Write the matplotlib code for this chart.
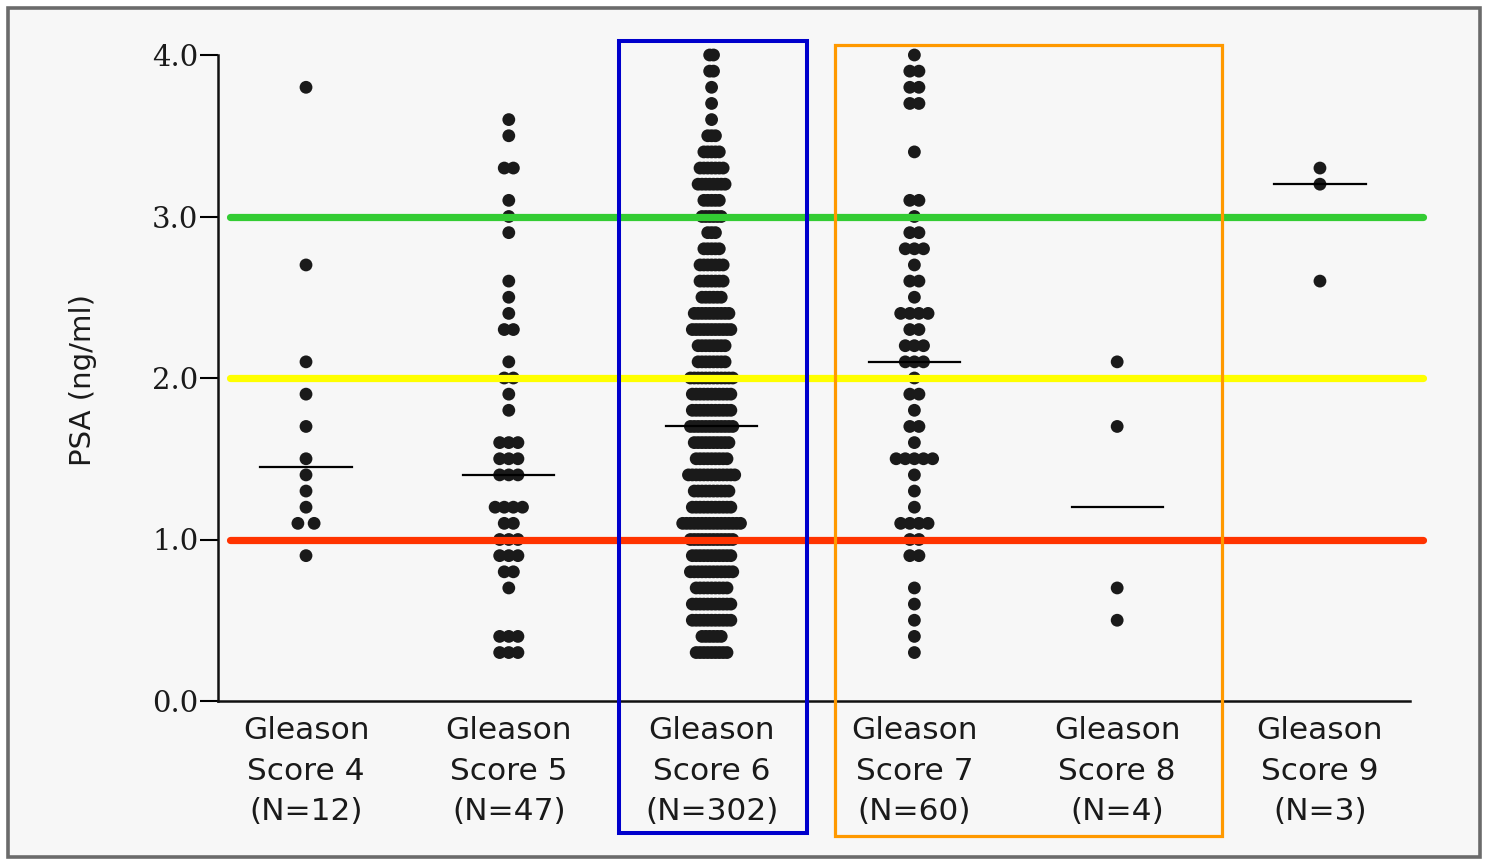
import numpy as np
import matplotlib
matplotlib.use("Agg")
from matplotlib import pyplot as plt
from matplotlib.patches import Rectangle

# PSA values (ng/ml) per Gleason score group
gs4 = [3.8, 2.7, 2.1, 1.9, 1.7, 1.5, 1.4, 1.3, 1.2, 1.1, 1.1, 0.9]
gs5 = [3.6, 3.5, 3.3, 3.3, 3.1, 3.0, 2.9, 2.6, 2.5, 2.4, 2.3, 2.3, 2.1, 2.0, 2.0,
       1.9, 1.8, 1.6, 1.6, 1.6, 1.5, 1.5, 1.5, 1.4, 1.4, 1.4, 1.2, 1.2, 1.2, 1.2,
       1.1, 1.1, 1.0, 1.0, 1.0, 0.9, 0.9, 0.9, 0.8, 0.8, 0.7, 0.4, 0.4, 0.4,
       0.3, 0.3, 0.3]
# score 6 and 7 are dense, so they are kept as PSA level -> number of patients
gs6_levels = np.round(np.arange(3, 41) / 10, 1)
gs6_counts = [9, 6, 11, 11, 9, 12, 11, 12, 16, 11, 10, 13, 9, 10,
              12,
              11, 11, 12, 8, 8, 11, 10, 6, 7, 7, 5, 3, 6, 5, 8, 7, 5, 3,
              1, 1, 1, 2, 2]
gs7_counts = [1, 1, 1, 1, 1, 0, 2, 2, 4, 1, 1, 1, 5, 1, 2, 1, 2, 1,
              3,
              3, 2, 4, 1, 2, 1, 3, 2, 1, 2, 0, 0, 1, 0, 0, 2, 2, 2, 1]
gs6 = np.repeat(gs6_levels, gs6_counts)
gs7 = np.repeat(gs6_levels, gs7_counts)
gs8 = [2.1, 1.7, 0.7, 0.5]
gs9 = [3.3, 3.2, 2.6]

groups = [gs4, gs5, gs6, gs7, gs8, gs9]
labels = ["Gleason\nScore 4\n(N=12)", "Gleason\nScore 5\n(N=47)",
          "Gleason\nScore 6\n(N=302)", "Gleason\nScore 7\n(N=60)",
          "Gleason\nScore 8\n(N=4)", "Gleason\nScore 9\n(N=3)"]
cutoffs = [3.0, 2.0, 1.0]
cutoff_colors = ["#33cc33", "#ffff00", "#ff3300"]

# horizontal spacing of dots sharing a value (data units)
steps = [0.08, 0.045, 0.019, 0.045, 0.08, 0.08]


def swarm_x(vals, center, step):
    vals = np.round(np.asarray(vals, dtype=float), 1)
    xs = np.empty(len(vals))
    for v in np.unique(vals):
        idx = np.where(vals == v)[0]
        n = len(idx)
        xs[idx] = center + (np.arange(n) - (n - 1) / 2) * step
    return xs


fig = plt.figure(figsize=(14.87, 8.6), dpi=100, facecolor="white")

# grey frame round the whole panel
W, H = 1487, 860
fig.patches.append(Rectangle((8 / W, 3 / H), 1472 / W, 849 / H,
                             transform=fig.transFigure, facecolor="#f7f7f7",
                             edgecolor="#6b6b6b", linewidth=2.6, zorder=-10))

ax = fig.add_axes([218 / W, 1 - 701 / H, (1410 - 218) / W, (701 - 55) / H])
ax.set_facecolor("none")

for i, vals in enumerate(groups):
    xs = swarm_x(vals, i, steps[i])
    ax.scatter(xs, vals, s=85, color="#1a1a1a", edgecolors="none",
               zorder=3, clip_on=False)
    med = np.median(vals)
    ax.plot([i - 0.225, i + 0.225], [med, med], color="black", lw=1.6,
            zorder=4)

for y, c in zip(cutoffs, cutoff_colors):
    ax.plot([-0.377, 5.51], [y, y], color=c, lw=5.2,
            solid_capstyle="round", zorder=5, clip_on=False)

# highlight boxes round score 6 and scores 7-8
ax.add_patch(Rectangle((1.543, -0.817), 2.470 - 1.543, 4.087 + 0.817,
                       fill=False, edgecolor="#0000cc", lw=2.9,
                       zorder=6, clip_on=False))
ax.add_patch(Rectangle((2.608, -0.836), 4.517 - 2.608, 4.062 + 0.836,
                       fill=False, edgecolor="#ff9900", lw=2.3,
                       zorder=6, clip_on=False))

ax.set_xlim(-0.434, 5.444)
ax.set_ylim(0, 4.0)
ax.set_yticks([0, 1, 2, 3, 4])
ax.set_yticklabels(["0.0", "1.0", "2.0", "3.0", "4.0"],
                   fontfamily="DejaVu Serif", fontsize=21, color="#1a1a1a")
ax.tick_params(axis="y", length=13, width=1.5, pad=1, direction="out")
ax.set_xticks(range(len(labels)))
ax.set_xticklabels(labels, fontsize=22.5, linespacing=1.5, color="#1a1a1a")
ax.tick_params(axis="x", length=0, pad=11)

for side in ["top", "right"]:
    ax.spines[side].set_visible(False)
for side in ["left", "bottom"]:
    ax.spines[side].set_linewidth(1.8)
    ax.spines[side].set_color("#111111")

fig.text(83 / W, 1 - 380 / H, "PSA (ng/ml)", rotation=90, fontsize=21,
         ha="center", va="center", color="#1a1a1a")

fig.savefig("out.png", dpi=100, facecolor=fig.get_facecolor())
